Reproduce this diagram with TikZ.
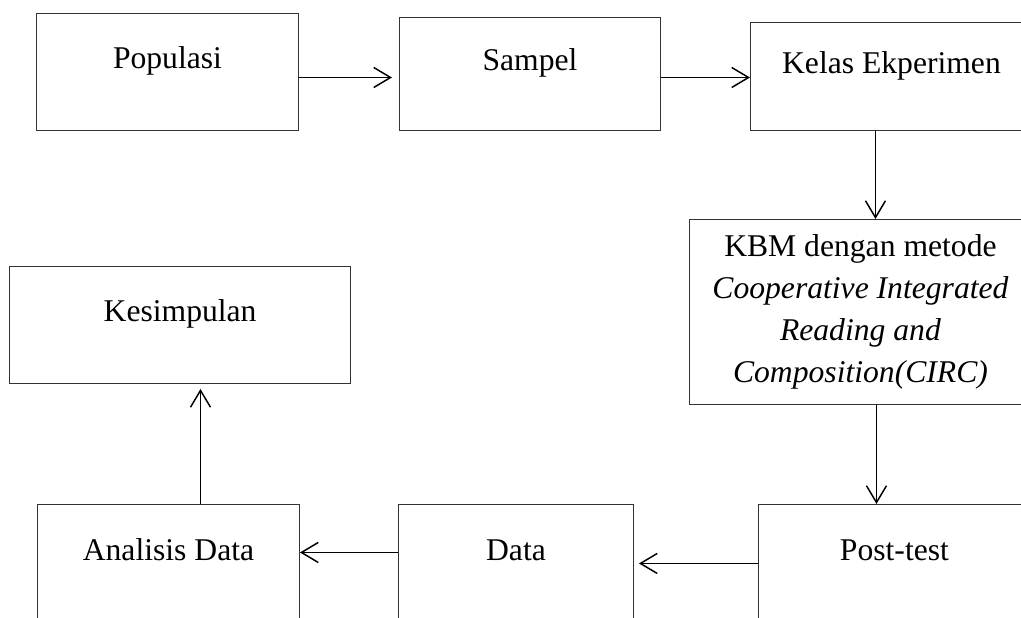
\documentclass[tikz,border=0pt]{standalone}
\usepackage{fontspec}
\setmainfont{Liberation Serif}
\usetikzlibrary{positioning, arrows.meta}

\begin{document}
\begin{tikzpicture}[
        node distance=2.5cm and 2.5cm,
        stage/.style={rectangle, draw=black!80, line width=0.7pt, align=center, inner sep=0pt, font=\fontsize{22.5}{29.9}\selectfont, text height=0.55cm, text depth=0.7cm},
        method/.style={rectangle, draw=black!80, line width=0.7pt, align=center, inner sep=0pt, font=\fontsize{22.5}{29.9}\selectfont},
        flow/.style={-{Straight Barb[length=0.42cm, width=0.5cm]}, line width=1.05pt}
    ]
        \useasboundingbox (0,0) rectangle (25.525,-15.45);
        \clip (0,0) rectangle (25.525,-15.45);

        % Top row
        \node[stage, minimum width=6.55cm, minimum height=2.925cm, anchor=north west] (POP) at (0.9,-0.325) {Populasi};
        \node[stage, minimum width=6.525cm, minimum height=2.825cm, right=2.5cm of POP, yshift=-0.05cm] (SAMPEL) {Sampel};
        \node[stage, minimum width=7.05cm, minimum height=2.7cm, right=2.225cm of SAMPEL, yshift=-0.0625cm] (KELAS) {Kelas Ekperimen};

        % Method
        \node[method, minimum width=8.55cm, minimum height=4.625cm, below=2.2cm of KELAS, xshift=-0.775cm] (KBM) {KBM dengan metode\\\textit{Cooperative Integrated}\\\textit{Reading and}\\\textit{Composition(CIRC)}};

        % Bottom row
        \node[stage, minimum width=6.8cm, minimum height=2.95cm, below=2.475cm of KBM, xshift=0.85cm] (POST) {Post-test};
        \node[stage, minimum width=5.875cm, minimum height=2.95cm, left=3.1cm of POST] (DATA) {Data};
        \node[stage, minimum width=6.55cm, minimum height=2.95cm, left=2.45cm of DATA] (ANALISIS) {Analisis Data};
        \node[stage, minimum width=8.525cm, minimum height=2.925cm, above=3cm of ANALISIS, xshift=0.29cm] (KES) {Kesimpulan};

        % Arrows
        \draw[flow, shorten >=0.175cm] ([yshift=-0.1375cm]POP.east) -- ([yshift=-0.1375cm]POP.east -| SAMPEL.west);
        \draw[flow] ([yshift=-0.0875cm]SAMPEL.east) -- ([yshift=-0.0875cm]SAMPEL.east -| KELAS.west);
        \draw[flow] ([xshift=-0.4cm]KELAS.south) -- ([xshift=-0.4cm]KELAS.south |- KBM.north);
        \draw[flow] ([xshift=0.4cm]KBM.south) -- ([xshift=0.4cm]KBM.south |- POST.north);
        \draw[flow, shorten >=0.125cm] (POST.west) -- (DATA.east);
        \draw[flow] ([yshift=0.275cm]DATA.west) -- ([yshift=0.275cm]DATA.west -| ANALISIS.east);
        \draw[flow, shorten >=0.125cm] ([xshift=0.8cm]ANALISIS.north) -- ([xshift=0.8cm]ANALISIS.north |- KES.south);
    \end{tikzpicture}
\end{document}
